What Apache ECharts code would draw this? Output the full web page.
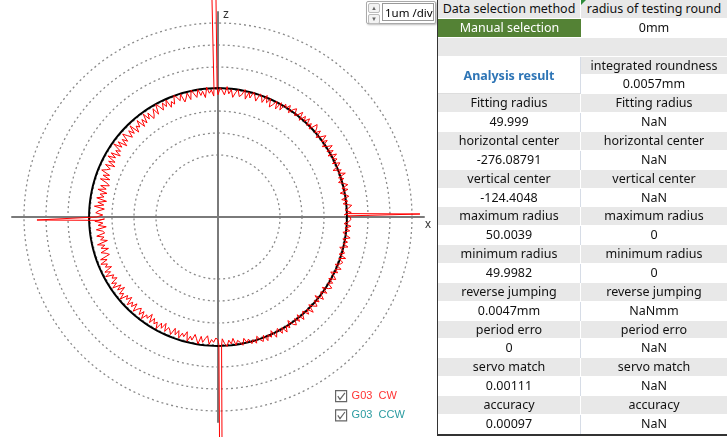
<!DOCTYPE html>
<html>
<head>
<meta charset="utf-8">
<script src="https://cdn.jsdelivr.net/npm/echarts@6/dist/echarts.min.js"></script>
<style>
  html, body { margin: 0; padding: 0; background: #fff; }
  #wrap { position: relative; width: 727px; height: 437px; overflow: hidden; font-family: "Noto Sans", "Open Sans", sans-serif; }
  #chart { position: absolute; left: 0; top: 0; width: 727px; height: 437px; }
  #spin { position: absolute; left: 366px; top: 1px; width: 68px; height: 21px; border: 1px solid #aaa; border-radius: 2px; background: #fff; box-shadow: 1px 1px 2px #bbb; }
  #spin .btns { position: absolute; left: 1px; top: 1px; width: 12px; height: 19px; }
  #spin .btns div { height: 8px; margin-bottom: 1px; border: 1px solid #bbb; border-radius: 2px; background: #f3f3f3; font-size: 6px; line-height: 8px; text-align: center; color: #666; }
  #spin .val { position: absolute; left: 15px; top: 1px; width: 52px; height: 18px; border: 1px solid #999; font-size: 11.5px; line-height: 17px; padding-left: 2px; color: #000; box-sizing: border-box; white-space: nowrap; overflow: hidden; }
  #tbl { position: absolute; left: 437px; top: 0; width: 290px; height: 436px; display: grid; grid-template-columns: 143px 147px; grid-template-rows: repeat(23, 18.87px); border-left: 1px solid #333; border-bottom: 2px solid #333; box-sizing: border-box; }
  #tbl div { font-size: 12.5px; line-height: 18px; text-align: center; color: #111; white-space: nowrap; overflow: hidden; box-sizing: border-box; }
  #tbl .g { background: #e8e8e8; border-right: 1px solid #fff; border-bottom: 1px solid #fff; }
  #tbl .w { background: #fff; border-right: 1px solid #d6dce6; }
  #tbl .green { background: #548235; color: #fff; border-bottom: 1px solid #fff; }
  #tbl .ar { grid-row: span 2; color: #2e75b6; font-weight: bold; line-height: 37px; border-right: 1px solid #d6dce6; border-bottom: 1px solid #ddd; }
  #tbl .full { grid-column: span 2; }
  #mark { position: absolute; left: 581px; top: 0; width: 0; height: 0; border-top: 5px solid #2e8b3a; border-right: 5px solid transparent; }
</style>
</head>
<body>
<div id="wrap">
  <div id="chart"></div>
  <div id="spin"><div class="btns"><div>&#9650;</div><div>&#9660;</div></div><div class="val">1um /div</div></div>
  <div id="tbl"></div>
  <div id="mark"></div>
</div>
<script>
// radial deviation of the G03 CW trace from the fit circle, in um (= div), one sample per degree
const devQ1 = [0.15,-0.12,0.20,-0.06,0.10,0.24,-0.14,0.08,-0.18,0.16,
  0.02,-0.20,0.18,-0.08,0.22,0.04,-0.16,0.12,-0.10,0.26,
  -0.04,0.14,-0.22,0.06,0.20,-0.12,0.16,-0.02,0.24,-0.14,
  0.18,-0.08,0.26,0.02,-0.14,0.20,-0.04,0.28,0.06,-0.12,
  0.22,-0.02,0.18,0.30,-0.10,0.14,-0.06,0.24,0.00,0.20,
  -0.12,0.26,0.04,-0.08,0.22,0.10,-0.14,0.18,-0.02,0.12,
  -0.24,0.08,-0.30,0.04,-0.18,-0.34,0.02,-0.22,0.10,-0.28,
  -0.06,0.06,-0.32,-0.12,0.04,-0.26,-0.02,-0.36,0.06,-0.20,
  -0.30,0.00,-0.16,-0.38,-0.04,-0.24,0.08,-0.30,-0.12,0.02];
const devQ2 = [-0.30,0.02,-0.36,-0.08,-0.22,0.06,-0.40,-0.10,-0.28,0.00,
  -0.34,-0.16,0.04,-0.38,-0.06,-0.26,-0.42,-0.02,-0.30,-0.12,
  0.02,-0.36,-0.20,-0.44,-0.04,-0.32,-0.10,-0.40,-0.18,-0.02,
  -0.46,-0.12,-0.38,-0.52,-0.16,-0.42,-0.08,-0.50,-0.24,-0.56,
  -0.14,-0.44,-0.30,-0.58,-0.10,-0.48,-0.22,-0.54,-0.34,-0.12,
  -0.50,-0.26,-0.60,-0.18,-0.46,-0.08,-0.52,-0.32,-0.62,-0.20,
  -0.48,-0.14,-0.56,-0.28,-0.64,-0.22,-0.50,-0.36,-0.16,-0.58,
  -0.30,-0.66,-0.24,-0.58,-0.72,-0.34,-0.62,-0.26,-0.70,-0.40,
  -0.60,-0.28,-0.74,-0.36,-0.64,-0.22,-0.68,-0.44,-0.30,-0.62];
const devQ3 = [-0.34,-0.70,-0.26,-0.62,-0.40,-0.76,-0.30,-0.58,-0.66,-0.28,
  -0.60,-0.42,-0.72,-0.24,-0.56,-0.36,-0.68,-0.30,-0.52,-0.64,
  -0.18,-0.46,-0.12,-0.40,-0.26,-0.52,-0.14,-0.38,-0.08,-0.44,
  -0.30,-0.50,-0.16,-0.36,-0.10,-0.48,-0.22,-0.54,-0.18,-0.34,
  -0.06,-0.42,-0.26,-0.50,-0.12,-0.38,-0.20,-0.46,-0.10,-0.32,
  -0.44,-0.16,-0.40,-0.08,-0.36,-0.24,-0.52,-0.14,-0.42,-0.20,
  -0.34,-0.06,-0.40,-0.18,-0.48,-0.12,-0.36,-0.26,-0.10,-0.44,
  -0.16,-0.40,-0.08,-0.34,-0.20,-0.46,-0.04,-0.30,-0.14,-0.42,
  -0.24,-0.02,-0.38,-0.12,-0.30,-0.44,-0.06,-0.28,-0.16,-0.36];
const devQ4 = [-0.26,-0.02,-0.32,-0.10,0.04,-0.24,-0.06,-0.30,0.02,-0.18,
  -0.08,0.08,-0.22,0.00,-0.14,0.10,-0.06,0.14,-0.16,0.04,
  0.16,-0.10,0.20,-0.04,0.12,-0.16,0.22,0.02,-0.12,0.18,
  -0.06,0.24,-0.02,0.14,-0.18,0.10,0.20,-0.08,0.16,-0.14,
  0.22,0.00,-0.10,0.18,-0.04,0.26,-0.12,0.08,0.20,-0.06,
  0.14,-0.18,0.22,0.02,-0.08,0.18,-0.14,0.12,0.24,-0.04,
  0.16,-0.10,0.20,0.06,-0.16,0.14,-0.02,0.22,-0.12,0.10,
  0.18,-0.06,0.24,-0.10,0.12,0.02,-0.16,0.20,-0.04,0.14,
  -0.10,0.22,0.00,-0.14,0.16,-0.06,0.20,-0.12,0.10,0.18];
// reversal spikes at the quadrant changes: [radius div, angle deg]
const spike0 = [[5.90, 0.5], [9.18, 0.85], [5.92, 1.5]];
const spike90 = [[5.90, 90.4], [9.95, 90.53], [9.95, 91.58], [5.85, 91.8]];
const spike180 = [[5.50, 180.5], [8.23, 180.95], [5.45, 181.6]];
const spike270 = [[5.80, 270.4], [10.1, 270.39], [10.1, 271.03], [5.82, 271.6]];

const FIT_R = 5.86;        // fit circle radius on the plot (div from centre)
const SAMPLE_STEP = 1;     // deg between samples
const RING_COUNT = 6;      // 1um rings on each side... inner ring to outer ring

const rowLabels = ['Fitting radius', 'horizontal center', 'vertical center', 'maximum radius', 'minimum radius',
  'reverse jumping', 'period erro', 'servo match', 'accuracy'];
const cwValues = ['49.999', '-276.08791', '-124.4048', '50.0039', '49.9982', '0.0047mm', '0', '0.00111', '0.00097'];
const ccwValues = ['NaN', 'NaN', 'NaN', '0', '0', 'NaNmm', 'NaN', 'NaN', 'NaN'];

// table
const tbl = document.getElementById('tbl');
const cell = (cls, txt) => { const d = document.createElement('div'); d.className = cls; d.textContent = txt; tbl.appendChild(d); };
cell('g', 'Data selection method'); cell('g', 'radius of testing round');
cell('green', 'Manual selection'); cell('w', '0mm');
cell('g full', '');
cell('w ar', 'Analysis result'); cell('g', 'integrated roundness'); cell('w', '0.0057mm');
rowLabels.forEach((lab, i) => {
  cell('g', lab); cell('g', lab);
  cell('w', cwValues[i]); cell('w', ccwValues[i]);
});

// trace points
const quads = [devQ1, devQ2, devQ3, devQ4];
const spikes = [spike0, spike90, spike180, spike270];
const tracePts = [];
quads.forEach((q, k) => {
  q.forEach((d, i) => {
    tracePts.push([FIT_R + d, k * 90 + i * SAMPLE_STEP]);
    if (i === 0) spikes[k].forEach(p => tracePts.push(p));
  });
});
tracePts.push([FIT_R + devQ1[0], 360]);

const fitPts = [];
for (let a = 0; a <= 360; a += 2) fitPts.push([FIT_R, a]);

const hiddenAxis = { axisLine: { show: false }, axisTick: { show: false }, axisLabel: { show: false }, splitLine: { show: false } };
const chart = echarts.init(document.getElementById('chart'));
const checkIcon = 'path://M1,1H11V11H1Z M3,6L5,9L9.5,3';
chart.setOption({
  animation: false,
  backgroundColor: '#fff',
  // polar 0: ring band of 1um/div circles; polar 1: same 22px/div scale from the centre, for the traces
  polar: [
    { center: [218, 217], radius: [62, 194] },
    { center: [218, 217], radius: 352 }
  ],
  radiusAxis: [
    {
      polarIndex: 0, type: 'value', min: 0, max: RING_COUNT, interval: 1,
      axisLine: { show: false }, axisTick: { show: false }, axisLabel: { show: false },
      splitLine: { show: true, lineStyle: { color: '#8a8a8a', type: [2, 3], width: 1.3 } }
    },
    Object.assign({ polarIndex: 1, type: 'value', min: 0, max: 16 }, hiddenAxis)
  ],
  angleAxis: [
    Object.assign({ polarIndex: 0, type: 'value', min: 0, max: 360, startAngle: 0, clockwise: false }, hiddenAxis),
    Object.assign({ polarIndex: 1, type: 'value', min: 0, max: 360, startAngle: 0, clockwise: false }, hiddenAxis)
  ],
  grid: { left: 12, top: 12, width: 412, height: 410 },
  xAxis: {
    type: 'value', min: -206, max: 206,
    axisLine: { onZero: true, lineStyle: { color: '#7a7a7a', width: 2 } },
    axisTick: { show: false }, axisLabel: { show: false }, splitLine: { show: false },
    name: 'x', nameLocation: 'end', nameGap: 1,
    nameTextStyle: { color: '#333', fontSize: 12, verticalAlign: 'top', align: 'left', padding: [2, 0, 0, 0] }
  },
  yAxis: {
    type: 'value', min: -205, max: 205,
    axisLine: { onZero: true, lineStyle: { color: '#7a7a7a', width: 2 } },
    axisTick: { show: false }, axisLabel: { show: false }, splitLine: { show: false },
    name: 'z', nameLocation: 'end', nameGap: 3,
    nameTextStyle: { color: '#333', fontSize: 12, verticalAlign: 'top', align: 'left', padding: [0, 0, 0, 5] }
  },
  legend: {
    orient: 'vertical', left: 330, top: 385, itemGap: 7, itemWidth: 11, itemHeight: 11,
    selectedMode: false,
    formatter: n => n.replace(' ', '  '),
    data: [
      { name: 'G03 CW', icon: checkIcon, itemStyle: { color: 'transparent', borderColor: '#666', borderWidth: 1.2 },
        textStyle: { color: '#ff3333', fontSize: 11 } },
      { name: 'G03 CCW', icon: checkIcon, itemStyle: { color: 'transparent', borderColor: '#666', borderWidth: 1.2 },
        textStyle: { color: '#2a9ba0', fontSize: 11 } }
    ]
  },
  series: [
    {
      name: 'fit', type: 'line', coordinateSystem: 'polar', polarIndex: 1, data: fitPts,
      showSymbol: false, lineStyle: { color: '#000', width: 2 }, silent: true
    },
    {
      name: 'G03 CW', type: 'line', coordinateSystem: 'polar', polarIndex: 1, data: tracePts,
      showSymbol: false, color: '#ff0000', lineStyle: { color: '#ff0000', width: 1 }
    },
    {
      name: 'G03 CCW', type: 'line', coordinateSystem: 'polar', polarIndex: 1, data: [],
      showSymbol: false, color: '#2a9ba0', lineStyle: { color: '#2a9ba0', width: 1 }
    }
  ]
});
</script>
</body>
</html>
